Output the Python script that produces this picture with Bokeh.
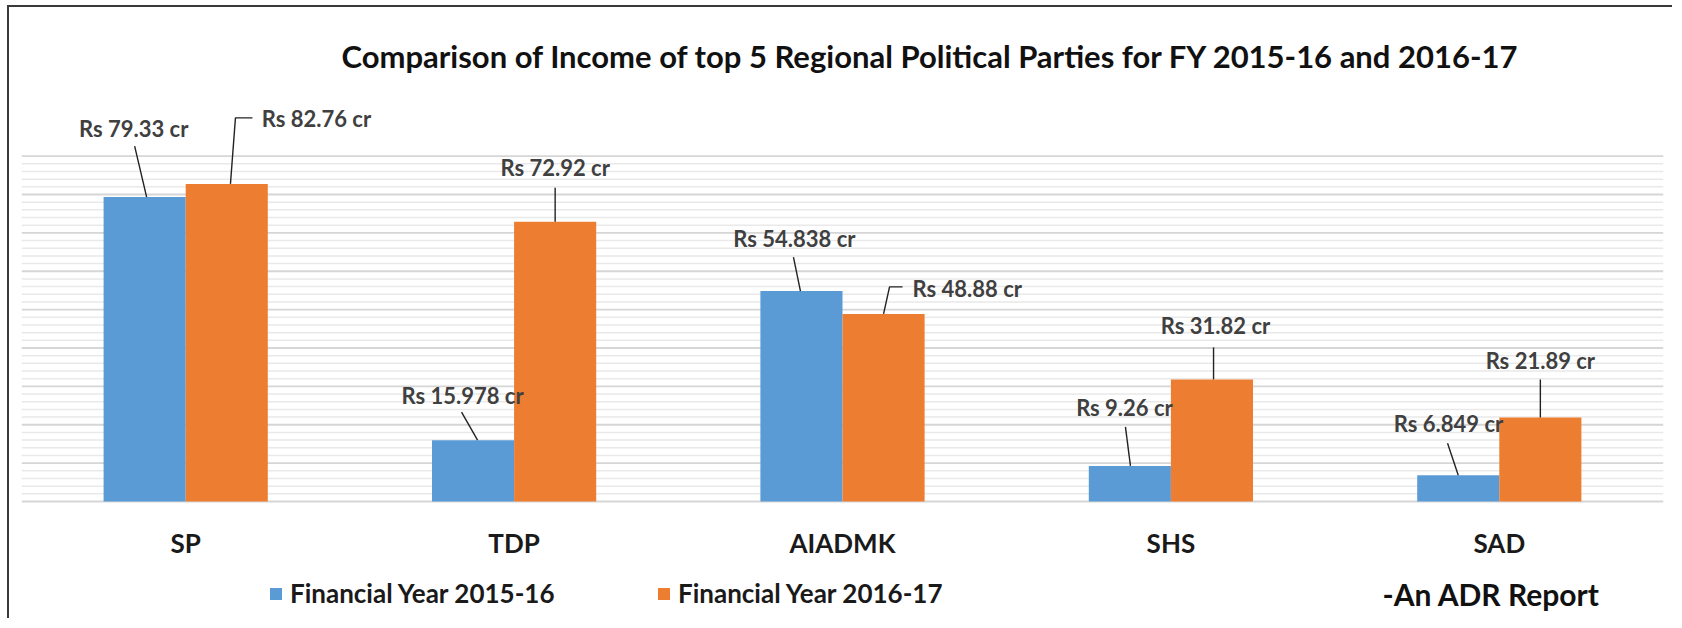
from bokeh.plotting import figure
from bokeh.models import Range1d, Legend, LegendItem, Label
from bokeh.embed import file_html
from bokeh.resources import INLINE
from bokeh.core.properties import value

# ---------------- data ----------------
parties = ["SP", "TDP", "AIADMK", "SHS", "SAD"]
fy_2015_16 = [79.33, 15.978, 54.838, 9.26, 6.849]
fy_2016_17 = [82.76, 72.92, 48.88, 31.82, 21.89]
series_names = ["Financial Year 2015-16", "Financial Year 2016-17"]
y_major = list(range(0, 100, 10))
y_minor = [v for v in range(0, 92, 2) if v % 10]
title_text = "Comparison of Income of top 5 Regional Political Parties for FY 2015-16 and 2016-17"
source_note = "-An ADR Report"

# ---------------- layout / style ----------------
BLUE, ORANGE = "#5B9BD5", "#ED7D31"
FONT = value("Lato")
OX, OY = 9, 7                # page position of the figure content (after css margin + border)
FRAME_L, FRAME_R, FRAME_T, FRAME_B = 21, 1663, 80, 620
MB_L = FRAME_L - OX
MB_T = FRAME_T - OY
MB_R = 11
MB_B = 0
W = FRAME_R + MB_R - OX
H = FRAME_B + MB_B - OY
XPX = (FRAME_R - FRAME_L) / len(parties)
BASE = 501.0                 # page y of value 0
TOP_G = 155.6                # page y of value 90
YPX = (BASE - TOP_G) / 90.0
Y_END = (BASE - FRAME_T) / YPX
Y_START = -(FRAME_B - BASE) / YPX
BAR_W = 0.25


def X(px):
    return (px - FRAME_L) / XPX - 0.5


def Y(py):
    return (BASE - py) / YPX


# label placement (pixel offsets from the bar's top centre)
lab_1516 = [(-11, -69, "center"), (-10.5, -45, "center"), (-7, -53, "center"),
            (-5.4, -58, "center"), (-9.7, -52, "center")]
lead_1516 = [[(2, 0), (-10, -51)], [(4.5, 0), (-11.5, -28)], [(-1, 0), (-8, -34)],
             [(0.6, 0), (-4.4, -39)], [(0, 0), (-10.7, -32)]]
lab_1617 = [(35, -65, "left"), (0, -54, "center"), (29, -25, "left"),
            (3.6, -54, "center"), (0, -57, "center")]
lead_1617 = [[(3.7, 0), (8.7, -66), (25.7, -66)], [(0, 0), (0, -34)],
             [(0, 0), (6, -27), (19, -27)], [(1.6, 0), (1.6, -32)], [(0, 0), (0, -38)]]

p = figure(width=W, height=H, output_backend="svg", toolbar_location=None,
           x_range=Range1d(-0.5, len(parties) - 0.5), y_range=Range1d(Y_START, Y_END),
           x_axis_type=None, y_axis_type=None,
           min_border_left=MB_L, min_border_right=MB_R,
           min_border_top=MB_T, min_border_bottom=MB_B)
p.outline_line_color = None
p.background_fill_color = "white"
p.border_fill_color = "white"
p.styles = {"border-left": "2px solid #3a3a3a", "border-top": "2px solid #3a3a3a",
            "margin-left": "7px", "margin-top": "5px"}

# title
p.title.text = title_text
p.title.align = "left"
p.title.offset = 320
p.title.standoff = 12
p.title.text_font = "Lato"
p.title.text_font_style = "bold"
p.title.text_font_size = "31px"
p.title.text_color = "#111111"

# gridlines
x0 = -0.5
x1 = len(parties) - 0.5
p.segment(x0=[x0] * len(y_minor), x1=[x1] * len(y_minor), y0=y_minor, y1=y_minor,
          line_color="#e9e9e9", line_width=1.5)
p.segment(x0=[x0] * len(y_major), x1=[x1] * len(y_major), y0=y_major, y1=y_major,
          line_color="#d6d6d6", line_width=1.8)

idx = list(range(len(parties)))
xs_a = [i - BAR_W / 2 for i in idx]
xs_b = [i + BAR_W / 2 for i in idx]
r1 = p.vbar(x=xs_a, top=fy_2015_16, bottom=0, width=BAR_W, fill_color=BLUE, line_color=None)
r2 = p.vbar(x=xs_b, top=fy_2016_17, bottom=0, width=BAR_W, fill_color=ORANGE, line_color=None)


def add_labels(xs, vals, labs, leads):
    lx, ly, ltxt = {"center": [], "left": []}, {"center": [], "left": []}, {"center": [], "left": []}
    mx, my = [], []
    for xc, v, (dx, dy, al), lead in zip(xs, vals, labs, leads):
        lx[al].append(xc + dx / XPX)
        ly[al].append(v - dy / YPX)
        ltxt[al].append(f"Rs {v} cr")
        mx.append([xc + a / XPX for a, b in lead])
        my.append([v - b / YPX for a, b in lead])
    p.multi_line(xs=mx, ys=my, line_color="#222222", line_width=1.4)
    for al in ("center", "left"):
        if ltxt[al]:
            p.text(x=lx[al], y=ly[al], text=ltxt[al], text_align=al, text_baseline="middle",
                   text_font=FONT, text_font_style="bold", text_font_size="22px",
                   text_color="#404040")


add_labels(xs_a, fy_2015_16, lab_1516, lead_1516)
add_labels(xs_b, fy_2016_17, lab_1617, lead_1617)

# category labels
p.text(x=idx, y=[Y(542)] * len(idx), text=parties, text_align="center", text_baseline="middle",
       text_font=FONT, text_font_style="bold", text_font_size="26px", text_color="#1a1a1a")

# legends
for r, name, lx in ((r1, series_names[0], 268), (r2, series_names[1], 656)):
    lg = Legend(items=[LegendItem(label=name, renderers=[r])], location=(lx - FRAME_L, 11),
                orientation="horizontal", glyph_width=15, glyph_height=15, label_standoff=7,
                padding=0, margin=0, border_line_color=None, background_fill_alpha=0,
                label_text_font="Lato", label_text_font_style="bold",
                label_text_font_size="26px", label_text_color="#1a1a1a", label_height=28)
    p.add_layout(lg)

# source note
p.add_layout(Label(x=X(1382), y=Y(593), text=source_note, text_align="left",
                   text_baseline="middle", text_font="Lato", text_font_style="bold",
                   text_font_size="30px", text_color="#111111"))

open("out.html", "w").write(file_html(p, INLINE))
